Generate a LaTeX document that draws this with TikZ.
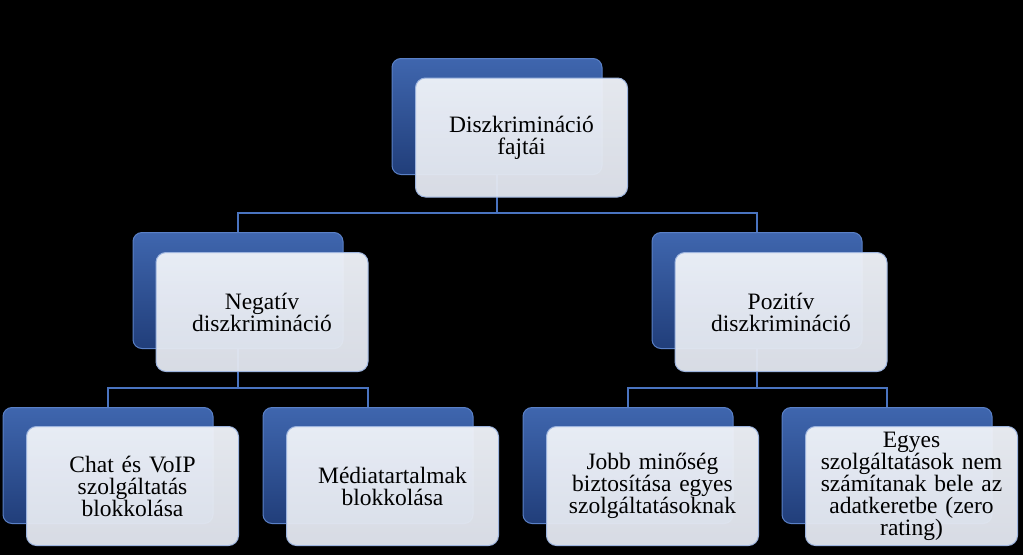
\documentclass[tikz,border=0pt]{standalone}
\usepackage{fontspec}
\setmainfont{Liberation Serif}
\usetikzlibrary{positioning}

\definecolor{backtop}{HTML}{3F66AE}
\definecolor{backbot}{HTML}{213E7A}
\definecolor{backedge}{HTML}{5A80C6}
\definecolor{fronttop}{HTML}{EFF2F8}
\definecolor{frontbot}{HTML}{E0E5EE}
\definecolor{frontedge}{HTML}{9DB4DE}
\definecolor{linkblue}{HTML}{4A74C0}

\tikzset{
    backbox/.style={rectangle,rounded corners=9pt,minimum width=210pt,minimum height=116pt,
        top color=backtop,bottom color=backbot,draw=backedge,line width=1pt},
    frontbox/.style={rectangle,rounded corners=10pt,minimum width=212pt,minimum height=119pt,
        top color=fronttop,bottom color=frontbot,fill opacity=0.96,text opacity=1,
        draw=frontedge,line width=1pt,align=center,text width=205pt,
        font=\fontsize{23.5}{22}\selectfont},
    link/.style={linkblue,line width=1.2pt}
}

\begin{document}
\begin{tikzpicture}[x=1pt,y=-1pt]
    \fill[black] (0,0) rectangle (1023,555);
    \useasboundingbox (0,0) rectangle (1023,555);
    % back boxes
    \node[backbox] (b0) at (497,116.5) {};
    \node[backbox] (b1) at (238,290.5) {};
    \node[backbox] (b2) at (757,290.5) {};
    \node[backbox] (b3) at (108,465.5) {};
    \node[backbox] (b4) at (368,465.5) {};
    \node[backbox] (b5) at (628,465.5) {};
    \node[backbox] (b6) at (887,465.5) {};
    % connectors
    \coordinate (j0) at (497,213);
    \coordinate (j1) at (238,388);
    \coordinate (j2) at (757,388);
    \draw[link] (b0.south) -- (j0);
    \draw[link] (b1.north) |- (j0) -| (b2.north);
    \draw[link] (b1.south) -- (j1);
    \draw[link] (b3.north) |- (j1) -| (b4.north);
    \draw[link] (b2.south) -- (j2);
    \draw[link] (b5.north) |- (j2) -| (b6.north);
    % front boxes
    \node[frontbox] (f0) at (521.5,137.5) {Diszkrimináció\\fajtái};
    \node[frontbox] (f1) at (262,312) {Negatív\\diszkrimináció};
    \node[frontbox] (f2) at (781,312) {Pozitív\\diszkrimináció};
    \node[frontbox] (f3) at (132.5,486) {Chat és VoIP\\szolgáltatás\\blokkolása};
    \node[frontbox] (f4) at (392.5,486) {Médiatartalmak\\blokkolása};
    \node[frontbox] (f5) at (652.5,486) {Jobb minőség\\biztosítása egyes\\szolgáltatásoknak};
    \node[frontbox] (f6) at (911.5,486) {Egyes\\szolgáltatások nem\\számítanak bele az\\adatkeretbe (zero\\rating)};
\end{tikzpicture}
\end{document}
